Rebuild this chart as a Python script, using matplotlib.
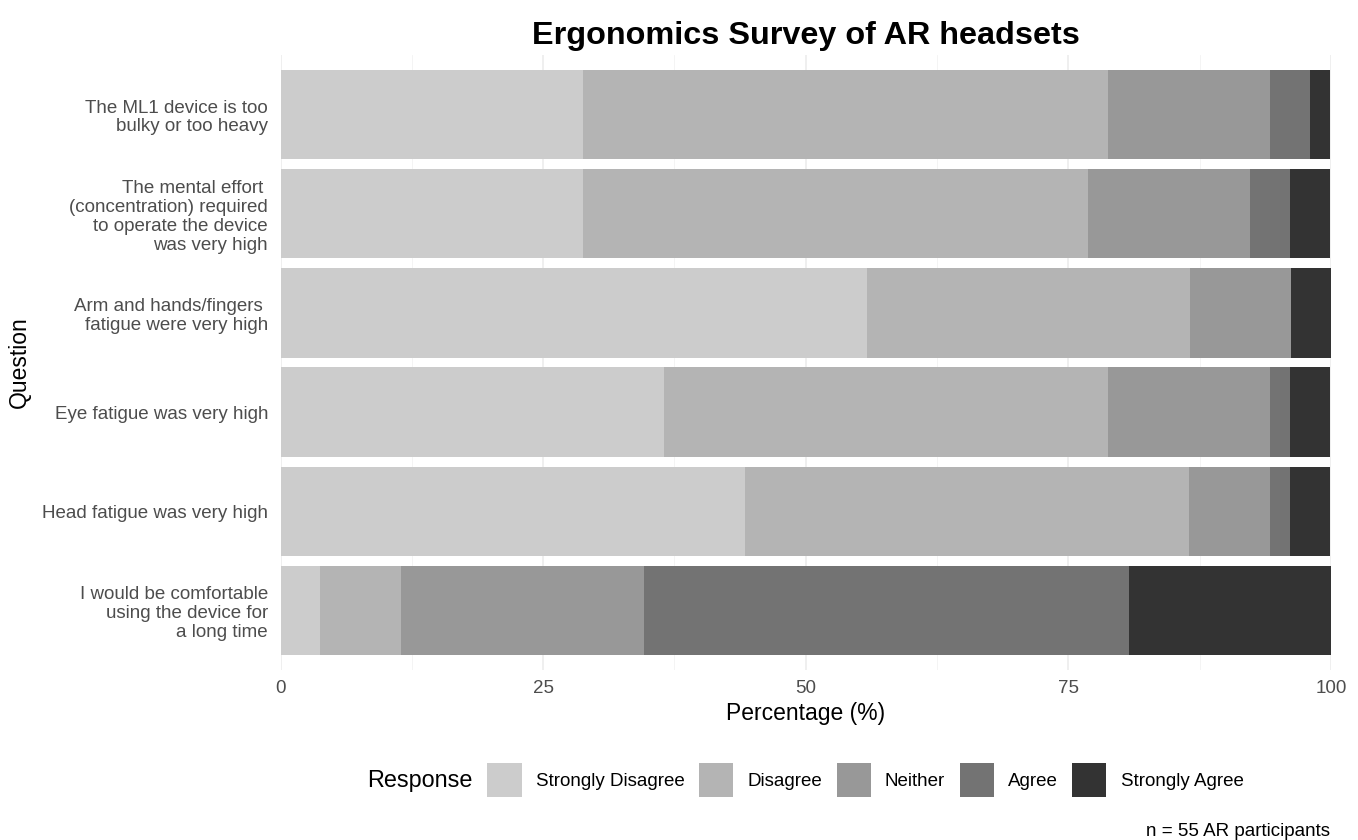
import matplotlib
matplotlib.use("Agg")
import matplotlib.pyplot as plt
from matplotlib.patches import Patch
import numpy as np

plt.rcParams['font.family'] = ['Liberation Sans', 'DejaVu Sans']

# questions, top to bottom
questions = [
    "The ML1 device is too\nbulky or too heavy",
    "The mental effort \n(concentration) required\nto operate the device\nwas very high",
    "Arm and hands/fingers \nfatigue were very high",
    "Eye fatigue was very high",
    "Head fatigue was very high",
    "I would be comfortable\nusing the device for\na long time",
]
responses = ["Strongly Disagree", "Disagree", "Neither", "Agree", "Strongly Agree"]
colors = ["#CCCCCC", "#B4B4B4", "#989898", "#737373", "#333333"]

# percentages
strongly_disagree = [28.8, 28.8, 55.8, 36.5, 44.2, 3.8]
disagree = [50.0, 48.1, 30.8, 42.3, 42.3, 7.7]
neither = [15.4, 15.4, 9.6, 15.4, 7.7, 23.1]
agree = [3.8, 3.8, 0.0, 1.9, 1.9, 46.2]
strongly_agree = [1.9, 3.8, 3.8, 3.8, 3.8, 19.2]

series = [strongly_disagree, disagree, neither, agree, strongly_agree]

fig = plt.figure(figsize=(13.58, 8.4), dpi=100)
ax = fig.add_axes([0.2066, 0.2024, 0.7735, 0.7321])

y = np.arange(len(questions))
left = np.zeros(len(questions))
for vals, col, name in zip(series, colors, responses):
    vals = np.array(vals)
    ax.barh(y, vals, left=left, height=0.9, color=col, label=name, zorder=2)
    left += vals

ax.set_xlim(0, 100)
ax.set_ylim(len(questions) - 0.4, -0.6)
ax.set_yticks(y)
ax.set_yticklabels(questions, fontsize=13.5, color="#4D4D4D", linespacing=1.15)
ax.set_xticks([0, 25, 50, 75, 100])
ax.set_xticklabels(["0", "25", "50", "75", "100"], fontsize=13.5, color="#4D4D4D")
ax.set_xticks([12.5, 37.5, 62.5, 87.5], minor=True)
ax.tick_params(axis="both", which="both", length=0)
ax.tick_params(axis="y", pad=9)
ax.tick_params(axis="x", pad=7)
ax.grid(axis="x", which="major", color="#EBEBEB", linewidth=1.1, zorder=0)
ax.grid(axis="x", which="minor", color="#F3F3F3", linewidth=0.6, zorder=0)
for s in ax.spines.values():
    s.set_visible(False)

ax.set_xlabel("Percentage (%)", fontsize=16.5, labelpad=4)
ax.set_ylabel("Question", fontsize=16.5)
ax.yaxis.set_label_coords(-0.2376, 0.5)
ax.set_title("Ergonomics Survey of AR headsets", fontsize=23.3, fontweight="bold", pad=8)

handles = [Patch(facecolor=c, edgecolor="none") for c in colors]
fig.legend(handles, responses, ncol=5, loc="center", bbox_to_anchor=(0.6373, 0.0714),
           frameon=False, fontsize=13.5, handlelength=1.82, handleheight=2.38,
           handletextpad=0.75, columnspacing=0.78)
fig.text(0.3483, 0.0714, "Response", fontsize=16.8, ha="right", va="center")
fig.text(0.9795, 0.005, "n = 55 AR participants", fontsize=13.5, ha="right", va="baseline")

fig.savefig("out.png", dpi=100, facecolor="white")
